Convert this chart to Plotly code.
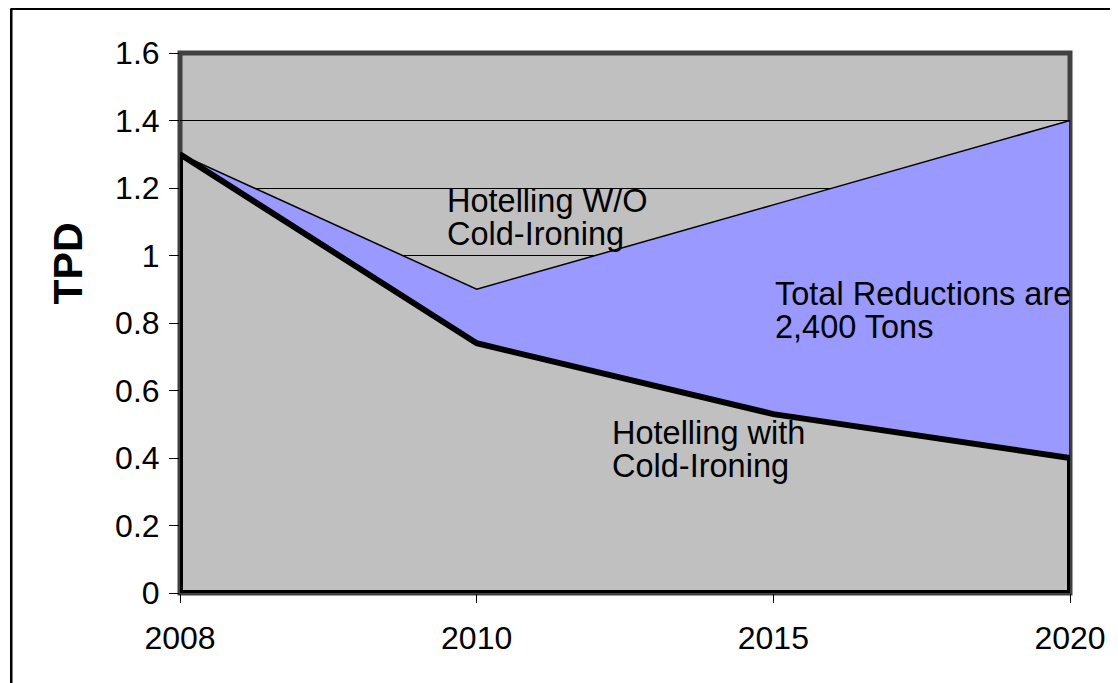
import plotly.graph_objects as go

## data
years = ["2008", "2010", "2015", "2020"]
without_ci = [1.30, 0.90, 1.15, 1.40]   # Hotelling W/O Cold-Ironing
with_ci = [1.30, 0.74, 0.53, 0.40]      # Hotelling with Cold-Ironing
y_ticks = [0, 0.2, 0.4, 0.6, 0.8, 1, 1.2, 1.4, 1.6]
y_tick_text = ["0", "0.2", "0.4", "0.6", "0.8", "1", "1.2", "1.4", "1.6"]
label_wo = ["Hotelling W/O", "Cold-Ironing"]
label_total = ["Total Reductions are", "2,400 Tons"]
label_with = ["Hotelling with", "Cold-Ironing"]

## the page body has an 8px margin, so the figure is drawn at (8, 8)
OFF = 8
W, H = 1118 - OFF, 683 - OFF
## plot area in window pixels: x 180..1074, y 53..593
L, R, T, B = 180 - OFF, 1118 - 1074, 53 - OFF, 683 - 593
pw, ph = W - L - R, H - T - B


def px(x):
  ## window x pixel -> paper coordinate
  return (x - OFF - L) / pw


def py(y):
  ## window y pixel -> paper coordinate
  return (H - B - (y - OFF)) / ph


FONT = "Arial, Liberation Sans, sans-serif"

fig = go.Figure()

## reduction band between the two lines
fig.add_trace(go.Scatter(
  x=years + years[::-1],
  y=without_ci + with_ci[::-1],
  fill="toself", fillcolor="#9999FF",
  line=dict(color="black", width=1.5),
  mode="lines", hoverinfo="skip", showlegend=False))

## area under the cold-ironing line
fig.add_trace(go.Scatter(
  x=[years[0]] + years + [years[-1], years[0]],
  y=[0] + with_ci + [0, 0],
  fill="toself", fillcolor="#C0C0C0",
  line=dict(color="black", width=6),
  mode="lines", hoverinfo="skip", showlegend=False))

annotations = []


def add_label(lines, x, ys):
  for text, y in zip(lines, ys):
    annotations.append(dict(
      text=text, x=px(x), y=py(y), xref="paper", yref="paper",
      xanchor="left", yanchor="middle", showarrow=False,
      font=dict(family=FONT, size=32.5, color="black")))


add_label(label_wo, 446, [201, 234])
add_label(label_total, 776, [294, 327])
add_label(label_with, 612, [433, 466])

annotations.append(dict(
  text="<b>TPD</b>", x=px(67), y=py(264), xref="paper", yref="paper",
  xanchor="center", yanchor="middle", textangle=-90, showarrow=False,
  font=dict(family=FONT, size=41, color="black")))

shapes = [
  ## plot frame, under the traces
  dict(type="rect", xref="paper", yref="paper", x0=0, x1=1, y0=0, y1=1,
       line=dict(color="#404040", width=5), layer="below"),
  ## outer chart border (top and left only visible)
  dict(type="line", xref="paper", yref="paper",
       x0=px(10), x1=px(1130), y0=py(8.5), y1=py(8.5),
       line=dict(color="black", width=3)),
  dict(type="line", xref="paper", yref="paper",
       x0=px(10.5), x1=px(10.5), y0=py(8.5), y1=py(700),
       line=dict(color="black", width=2.5)),
]

fig.update_layout(
  width=W, height=H,
  margin=dict(l=L, r=R, t=T, b=B, pad=0),
  paper_bgcolor="white", plot_bgcolor="#C0C0C0",
  font=dict(family=FONT, size=32, color="black"),
  annotations=annotations, shapes=shapes,
  showlegend=False)

fig.update_xaxes(
  type="category", range=[0, len(years) - 1],
  showgrid=False, zeroline=False, showline=False,
  ticks="outside", ticklen=9, tickwidth=1, tickcolor="black",
  ticklabelstandoff=8,
  tickfont=dict(family=FONT, size=32, color="black"))

fig.update_yaxes(
  range=[0, 1.6], tickvals=y_ticks, ticktext=y_tick_text,
  showgrid=True, gridcolor="black", gridwidth=1,
  zeroline=False, showline=False,
  ticks="outside", ticklen=10, tickwidth=1, tickcolor="black",
  ticklabelstandoff=3,
  tickfont=dict(family=FONT, size=32, color="black"))

fig.write_html("out.html")
